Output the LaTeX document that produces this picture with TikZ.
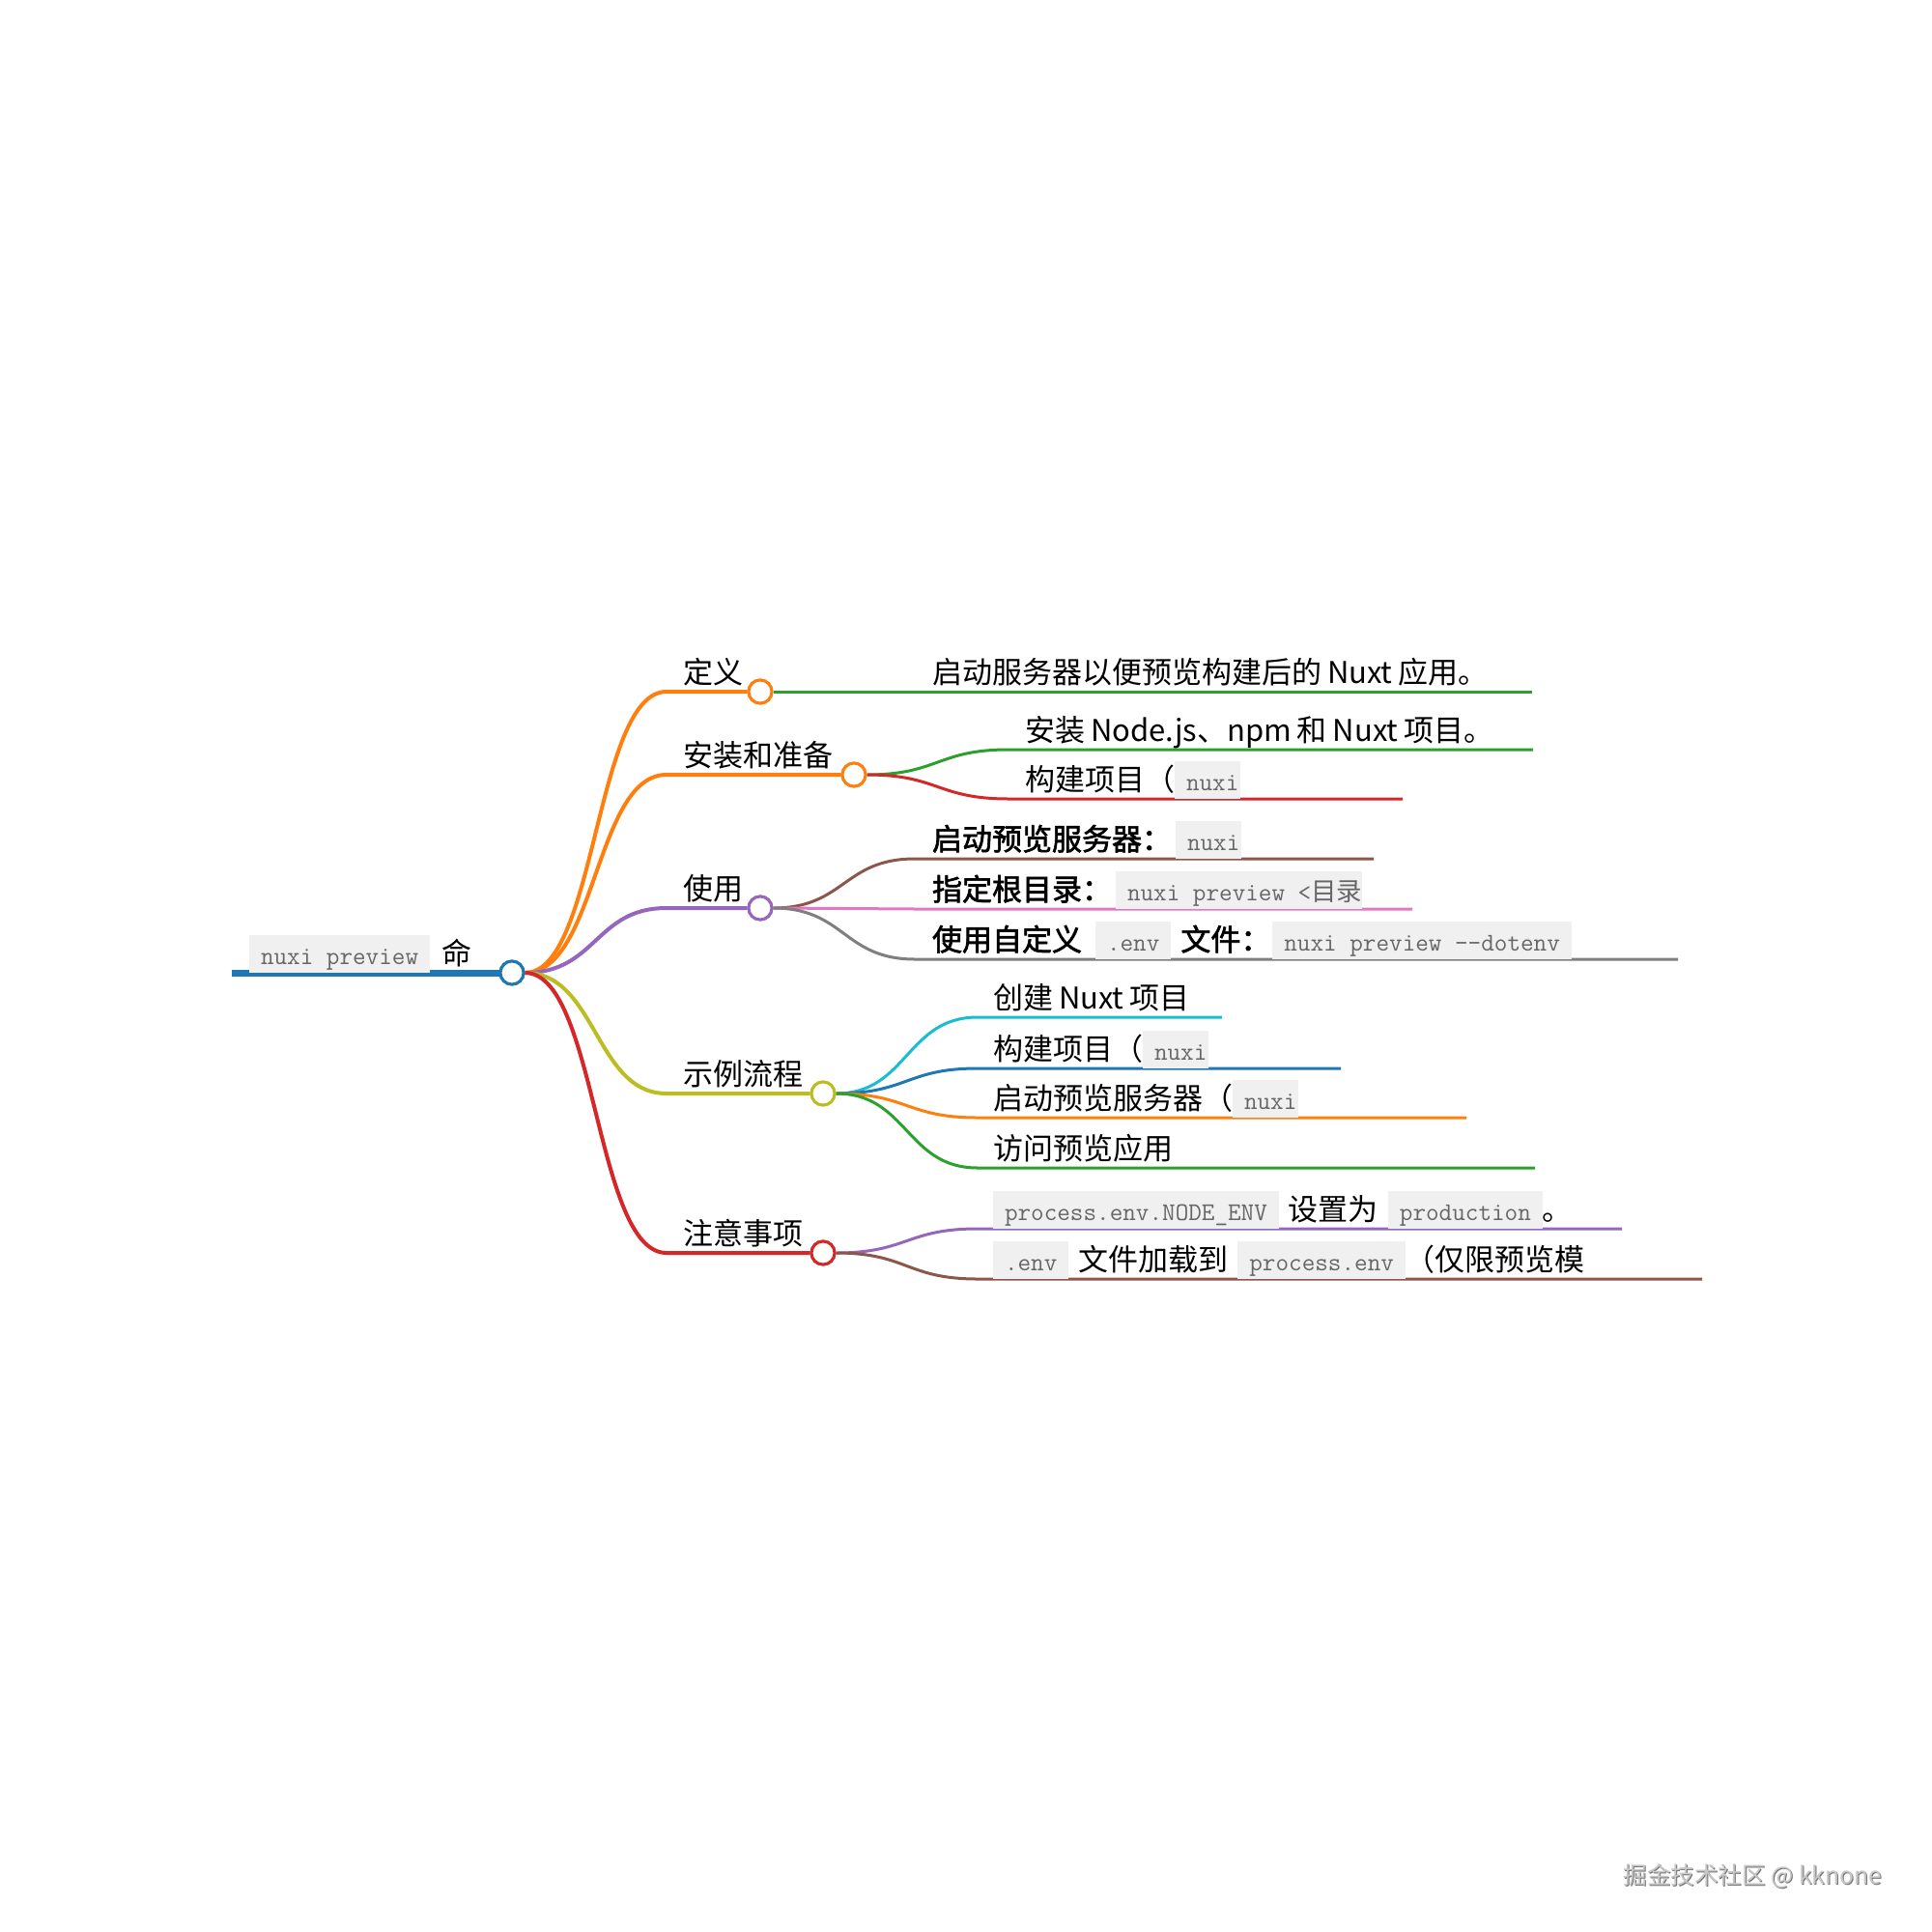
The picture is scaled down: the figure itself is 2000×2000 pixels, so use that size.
\documentclass[tikz,border=0pt]{standalone}
\usepackage{fontspec}
\setmainfont{Noto Sans CJK SC}
\newfontfamily\cjkb{Noto Sans CJK SC}[FakeBold=2]
\newfontfamily\cjkcode{Noto Sans CJK SC}
\definecolor{cblue}{HTML}{1F77B4}
\definecolor{corange}{HTML}{FF7F0E}
\definecolor{cgreen}{HTML}{2CA02C}
\definecolor{cred}{HTML}{D62728}
\definecolor{cpurple}{HTML}{9467BD}
\definecolor{cbrown}{HTML}{8C564B}
\definecolor{cpink}{HTML}{E377C2}
\definecolor{cgrey}{HTML}{7F7F7F}
\definecolor{colive}{HTML}{BCBD22}
\definecolor{ccyan}{HTML}{17BECF}
\definecolor{codebg}{HTML}{F0F0F0}
\definecolor{codefg}{HTML}{666666}
\newcommand\cbox[2][6pt]{{\setlength\fboxsep{0pt}\colorbox{codebg}{\rule[-4.5pt]{0pt}{19.5pt}\hspace{6pt}{\ttfamily\fontsize{13.2pt}{14pt}\selectfont\color{codefg}#2}\hspace{#1}}}}
\begin{document}
\begin{tikzpicture}[x=0.5pt,y=-0.5pt,
  lbl/.style={anchor=base west, inner sep=0pt, outer sep=0pt, font=\fontsize{15.5pt}{18pt}\selectfont},
  dotnode/.style={circle, draw=#1, fill=white, line width=1.5pt, minimum size=12pt, inner sep=0pt},
  lone/.style={line width=2pt, draw=#1},
  ltwo/.style={line width=1.5pt, draw=#1}]
\fill[white] (0,0) rectangle (2000,2000);
\useasboundingbox (0,0) rectangle (2000,2000);

% nodes (circles)
\node[dotnode=cblue] (c0) at (530,1007) {};
\node[dotnode=corange] (c1) at (787,716) {};
\node[dotnode=corange] (c2) at (884,802) {};
\node[dotnode=cpurple] (c3) at (787,940) {};
\node[dotnode=colive] (c4) at (852,1132) {};
\node[dotnode=cred] (c5) at (852,1297) {};

% coordinates
\coordinate (rs) at (240,1007);
\coordinate (u1) at (690,716);
\coordinate (u2) at (690,802);
\coordinate (u3) at (690,940);
\coordinate (u4) at (690,1132);
\coordinate (u5) at (690,1297);

\coordinate (d1s) at (947,716);  \coordinate (d1e) at (1586,716);
\coordinate (a1s) at (1044,776); \coordinate (a1e) at (1587,776);
\coordinate (a2s) at (1044,827); \coordinate (a2e) at (1452,827);
\coordinate (p1s) at (947,889);  \coordinate (p1e) at (1422,889);
\coordinate (p2s) at (947,941);  \coordinate (p2e) at (1462,941);
\coordinate (p3s) at (947,993);  \coordinate (p3e) at (1737,993);
\coordinate (e1s) at (1012,1053); \coordinate (e1e) at (1265,1053);
\coordinate (e2s) at (1012,1106); \coordinate (e2e) at (1388,1106);
\coordinate (e3s) at (1012,1157); \coordinate (e3e) at (1518,1157);
\coordinate (e4s) at (1012,1209); \coordinate (e4e) at (1589,1209);
\coordinate (n1s) at (1012,1272); \coordinate (n1e) at (1679,1272);
\coordinate (n2s) at (1012,1324); \coordinate (n2e) at (1762,1324);

% connectors
\draw[line width=3.5pt, cblue] (rs) -- (c0.west);
\draw[lone=corange] (c0.east) .. controls +(74,0) and +(-74,0) .. (u1) -- (c1.west);
\draw[lone=corange] (c0.east) .. controls +(74,0) and +(-74,0) .. (u2) -- (c2.west);
\draw[lone=cpurple] (c0.east) .. controls +(74,0) and +(-74,0) .. (u3) -- (c3.west);
\draw[lone=colive] (c0.east) .. controls +(74,0) and +(-74,0) .. (u4) -- (c4.west);
\draw[lone=cred] (c0.east) .. controls +(74,0) and +(-74,0) .. (u5) -- (c5.west);

\draw[ltwo=cgreen] (c1.east) .. controls +(74,0) and +(-74,0) .. (d1s) -- (d1e);
\draw[ltwo=cgreen] (c2.east) .. controls +(74,0) and +(-74,0) .. (a1s) -- (a1e);
\draw[ltwo=cred] (c2.east) .. controls +(74,0) and +(-74,0) .. (a2s) -- (a2e);
\draw[ltwo=cbrown] (c3.east) .. controls +(74,0) and +(-74,0) .. (p1s) -- (p1e);
\draw[ltwo=cpink] (c3.east) .. controls +(74,0) and +(-74,0) .. (p2s) -- (p2e);
\draw[ltwo=cgrey] (c3.east) .. controls +(74,0) and +(-74,0) .. (p3s) -- (p3e);
\draw[ltwo=ccyan] (c4.east) .. controls +(74,0) and +(-74,0) .. (e1s) -- (e1e);
\draw[ltwo=cblue] (c4.east) .. controls +(74,0) and +(-74,0) .. (e2s) -- (e2e);
\draw[ltwo=corange] (c4.east) .. controls +(74,0) and +(-74,0) .. (e3s) -- (e3e);
\draw[ltwo=cgreen] (c4.east) .. controls +(74,0) and +(-74,0) .. (e4s) -- (e4e);
\draw[ltwo=cpurple] (c5.east) .. controls +(74,0) and +(-74,0) .. (n1s) -- (n1e);
\draw[ltwo=cbrown] (c5.east) .. controls +(74,0) and +(-74,0) .. (n2s) -- (n2e);

% redraw circles on top
\node[dotnode=cblue] at (c0) {};
\node[dotnode=corange] at (c1) {};
\node[dotnode=corange] at (c2) {};
\node[dotnode=cpurple] at (c3) {};
\node[dotnode=colive] at (c4) {};
\node[dotnode=cred] at (c5) {};

% labels
\node[lbl] (troot) at (258,998) {\cbox{nuxi preview}\hspace{6pt}命};

\node[lbl] (t1) at (707,707) {定义};
\node[lbl] (t2) at (707,793) {安装和准备};
\node[lbl] (t3) at (707,931) {使用};
\node[lbl] (t4) at (707,1123) {示例流程};
\node[lbl] (t5) at (707,1288) {注意事项};

\node[lbl] (td1) at (965,707) {启动服务器以便预览构建后的\hspace{3pt}Nuxt\hspace{3pt}应用。};
\node[lbl] (ta1) at (1061,767) {安装\hspace{3pt}Node.js、npm\hspace{3pt}和\hspace{3pt}Nuxt\hspace{3pt}项目。};
\node[lbl] (ta2) at (1061,818) {构建项目（\cbox[1pt]{nuxi}};
\node[lbl] (tp1) at (965,880) {{\cjkb 启动预览服务器：}\hspace{2pt}\cbox[1pt]{nuxi}};
\node[lbl] (tp2) at (965,932) {{\cjkb 指定根目录：}\hspace{2pt}\cbox[0pt]{nuxi preview <{\cjkcode 目录}}};
\node[lbl] (tp3) at (965,984) {{\cjkb 使用自定义}\hspace{7pt}\cbox{.env}\hspace{5pt}{\cjkb 文件：}\hspace{1pt}\cbox{nuxi preview -{}-dotenv}};
\node[lbl] (te1) at (1028,1044) {创建\hspace{3pt}Nuxt\hspace{3pt}项目};
\node[lbl] (te2) at (1028,1097) {构建项目（\cbox[1pt]{nuxi}};
\node[lbl] (te3) at (1028,1148) {启动预览服务器（\cbox[1pt]{nuxi}};
\node[lbl] (te4) at (1028,1200) {访问预览应用};
\node[lbl] (tn1) at (1028,1263) {\cbox{process.env.NODE\_ENV}\hspace{5pt}设置为\hspace{5pt}\cbox{production}。};
\node[lbl] (tn2) at (1028,1315) {\cbox{.env}\hspace{5pt}文件加载到\hspace{5pt}\cbox{process.env}（仅限预览模};

% watermark
\node[anchor=base west, inner sep=0pt, font=\fontsize{12.3pt}{14pt}\selectfont, text=black!55] (wm0) at (1681,1951) {掘金技术社区 @ kknone};
\node[anchor=base west, inner sep=0pt, font=\fontsize{12.3pt}{14pt}\selectfont, text=black!22] (wm) at (1680,1950) {掘金技术社区 @ kknone};
\end{tikzpicture}
\end{document}
